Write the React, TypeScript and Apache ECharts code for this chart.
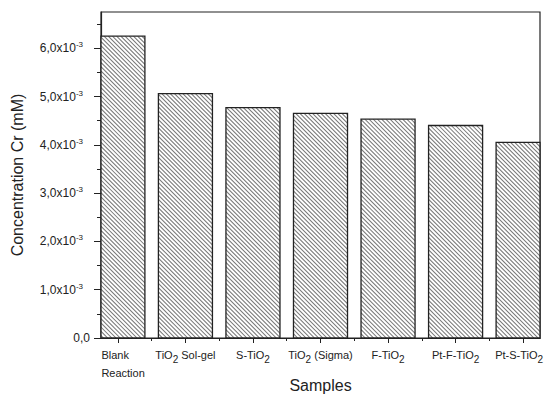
import React, { useEffect, useRef } from "react";
import * as echarts from "echarts";

const categories = [
  "{l|Blank}\n{l|Reaction}",
  "TiO{sub|2} Sol-gel",
  "S-TiO{sub|2}",
  "TiO{sub|2} (Sigma)",
  "F-TiO{sub|2}",
  "Pt-F-TiO{sub|2}",
  "{last|Pt-S-TiO}{lastsub|2}",
];
const positions = [1, 2, 3, 4, 5, 6, 7];
const concentration = [0.00625, 0.00506, 0.00477, 0.00465, 0.00453, 0.0044, 0.00405];
const yTickValues = [0, 0.001, 0.002, 0.003, 0.004, 0.005, 0.006];
const yMinorValues = [0.0005, 0.0015, 0.0025, 0.0035, 0.0045, 0.0055, 0.0065];
const xMinorValues = [1.5, 2.5, 3.5, 4.5, 5.5, 6.5];

export default function App() {
  const ref = useRef<HTMLDivElement>(null);
  useEffect(() => {
    if (!ref.current) return;
    const chart = echarts.init(ref.current, null, { renderer: "svg" });
    const font = "'Liberation Sans', Arial, sans-serif";
    const axisColor = "#222";
    const hatchColor = "#777";
    const hatchStep = 4.2;
    const barUnits = 0.8;

    const renderItem = (params: any, api: any) => {
      const xv = api.value(0);
      const yv = api.value(1);
      const base = api.coord([xv, 0]);
      const top = api.coord([xv, yv]);
      const bw = api.size([barUnits, 0])[0];
      const full = { x: base[0] - bw / 2, y: top[1], width: bw, height: base[1] - top[1] };
      const cs = params.coordSys;
      const r = echarts.graphic.clipRectByRect(full, { x: cs.x, y: cs.y, width: cs.width, height: cs.height });
      if (!r) return null;
      const children: any[] = [
        { type: "rect", shape: { x: r.x, y: r.y, width: r.width, height: r.height }, style: { fill: "#fff" } },
      ];
      const H = full.height;
      for (let k = -H; k < full.width + hatchStep; k += hatchStep) {
        const x0 = full.x + k;
        children.push({
          type: "line",
          shape: { x1: x0, y1: full.y, x2: x0 + H, y2: full.y + H },
          style: { stroke: hatchColor, lineWidth: 1.05 },
        });
      }
      return {
        type: "group",
        children: [
          {
            type: "group",
            clipPath: { type: "rect", shape: { x: r.x, y: r.y, width: r.width, height: r.height } },
            children,
          },
          {
            type: "rect",
            shape: { x: r.x, y: r.y, width: r.width, height: r.height },
            style: { fill: "none", stroke: "#222", lineWidth: 1.3 },
          },
        ],
      };
    };

    chart.setOption({
      animation: false,
      backgroundColor: "#fff",
      textStyle: { fontFamily: font },
      grid: {
        left: 101, right: 5, top: 12, bottom: 56,
        containLabel: false, outerBoundsMode: "none",
        show: true, borderColor: axisColor, borderWidth: 1.2, backgroundColor: "transparent",
      },
      xAxis: [
        {
          type: "value",
          min: 0.75,
          max: 7.25,
          splitLine: { show: false },
          axisLine: { show: true, onZero: false, lineStyle: { color: axisColor, width: 1.2 } },
          axisTick: { show: true, inside: false, length: 5, customValues: positions, lineStyle: { color: axisColor } },
          axisLabel: {
            customValues: positions,
            margin: 8,
            color: "#222",
            fontSize: 11,
            fontFamily: font,
            lineHeight: 18,
            formatter: (v: number) => categories[Math.round(v) - 1] ?? "",
            rich: {
              sub: { fontSize: 10, padding: [9, 0, 0, 0], color: "#222", fontFamily: font },
              last: { fontSize: 11, color: "#222", fontFamily: font },
              lastsub: { fontSize: 10, padding: [9, 8, 0, 0], color: "#222", fontFamily: font },
              l: { width: 44, align: "left", fontSize: 11, color: "#222", fontFamily: font, padding: [0, 0, 0, 11], lineHeight: 18 },
            },
          },
          name: "Samples",
          nameLocation: "middle",
          nameGap: 39,
          nameMoveOverlap: false,
          nameTextStyle: { fontSize: 16, color: "#222", fontFamily: font },
        },
        {
          type: "value",
          min: 0.75,
          max: 7.25,
          position: "bottom",
          offset: 0,
          splitLine: { show: false },
          axisLine: { show: true, onZero: false, lineStyle: { color: "rgba(0,0,0,0)" } },
          axisTick: { show: true, length: 3, customValues: xMinorValues, lineStyle: { color: axisColor } },
          axisLabel: { show: true, customValues: xMinorValues, formatter: () => "" },
        },
      ],
      yAxis: [
        {
          type: "value",
          min: 0,
          max: 0.00675,
          splitLine: { show: false },
          axisLine: { show: true, onZero: false, lineStyle: { color: axisColor, width: 1.2 } },
          axisTick: { show: true, length: 7, customValues: yTickValues, lineStyle: { color: axisColor } },
          axisLabel: {
            customValues: yTickValues,
            margin: 11,
            fontSize: 12,
            color: "#222",
            fontFamily: font,
            formatter: (v: number) => {
              const m = v * 1000;
              if (Math.abs(m) < 1e-9) return "0,0";
              return m.toFixed(1).replace(".", ",") + "x10{sup|-3}";
            },
            rich: {
              sup: { fontSize: 8, padding: [0, 7, 7, 0], color: "#222", fontFamily: font },
            },
          },
          name: "Concentration Cr (mM)",
          nameLocation: "middle",
          nameGap: 76,
          nameMoveOverlap: false,
          nameTextStyle: { fontSize: 16, color: "#222", fontFamily: font },
        },
        {
          type: "value",
          min: 0,
          max: 0.00675,
          position: "left",
          offset: 0,
          splitLine: { show: false },
          axisLine: { show: true, onZero: false, lineStyle: { color: "rgba(0,0,0,0)" } },
          axisTick: { show: true, length: 4, customValues: yMinorValues, lineStyle: { color: axisColor } },
          axisLabel: { show: true, customValues: yMinorValues, formatter: () => "" },
        },
      ],
      series: [
        {
          type: "custom",
          xAxisIndex: 0,
          yAxisIndex: 0,
          clip: false,
          renderItem,
          encode: { x: 0, y: 1 },
          data: positions.map((p, i) => [p, concentration[i]]),
        },
      ],
    });
    return () => chart.dispose();
  }, []);
  return <div ref={ref} style={{ width: 545, height: 394, position: "absolute", left: 0, top: 0 }} />;
}
